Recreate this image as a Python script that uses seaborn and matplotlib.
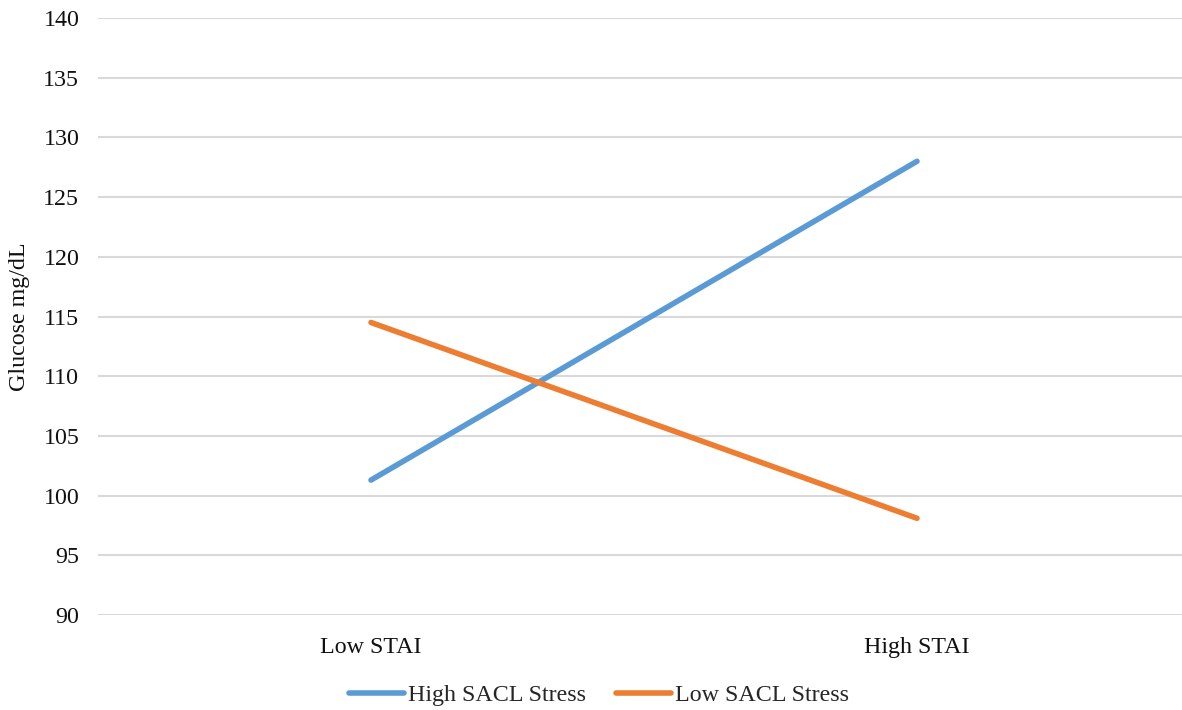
import matplotlib
matplotlib.use('Agg')
import matplotlib.pyplot as plt
import seaborn as sns
import pandas as pd

# data
stai = ['Low STAI', 'High STAI']
high_sacl = [101.3, 128.0]
low_sacl = [114.5, 98.1]
series = ['High SACL Stress', 'Low SACL Stress']

df = pd.DataFrame({
    'STAI': stai * 2,
    'Glucose': high_sacl + low_sacl,
    'group': [series[0]] * 2 + [series[1]] * 2,
})

sns.set_theme(style='white')
plt.rcParams['font.family'] = ['Liberation Serif', 'DejaVu Serif']

fig = plt.figure(figsize=(11.82, 7.10), dpi=100)
W, H = 1182, 710
ax = fig.add_axes([98 / W, (H - 615) / H, (1190 - 98) / W, (615 - 18) / H])

sns.lineplot(data=df, x='STAI', y='Glucose', hue='group', hue_order=series,
             palette=['#5B9BD5', '#ED7D31'], linewidth=4, ax=ax,
             solid_capstyle='round')

ax.set_xlim(-0.5, 1.5)
ax.set_ylim(90, 140)
ax.set_yticks(range(90, 141, 5))
ax.yaxis.grid(True, color='#D9D9D9', linewidth=1.5)
ax.set_axisbelow(True)
for s in ax.spines.values():
    s.set_visible(False)
ax.tick_params(axis='both', length=0, labelsize=17.3, labelcolor='#111111')
ax.tick_params(axis='y', pad=13.5)
ax.tick_params(axis='x', pad=15.5)
ax.set_xlabel('')
ax.set_ylabel('Glucose mg/dL', fontsize=17.3, color='#111111')
ax.yaxis.set_label_coords(-68 / 1092, 0.5)

leg = ax.legend(loc='center', bbox_to_anchor=(599 / W, (H - 695) / H),
                bbox_transform=fig.transFigure, ncol=2, frameon=False,
                fontsize=17.3, handlelength=2.3, handletextpad=0.15,
                columnspacing=1.25)
for line in leg.get_lines():
    line.set_linewidth(4)
    line.set_solid_capstyle('round')

fig.savefig('out.png', dpi=100)
